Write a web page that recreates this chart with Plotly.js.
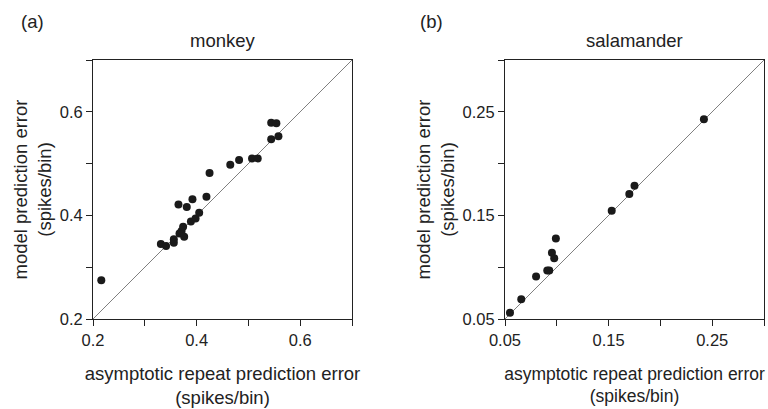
<!DOCTYPE html>
<html><head><meta charset="utf-8">
<script src="https://cdn.plot.ly/plotly-3.0.1.min.js"></script>
<style>html,body{margin:0;padding:0;background:#fff}</style>
</head><body><div id="chart" style="width:768px;height:409px"></div>
<script>
// monkey panel (a)
const monkeyRepeatErr = [0.216,0.331,0.341,0.356,0.356,0.365,0.367,0.371,0.374,0.376,0.381,0.389,0.392,0.398,0.405,0.419,0.425,0.465,0.482,0.507,0.518,0.544,0.558,0.544,0.554];
const monkeyModelErr  = [0.275,0.345,0.341,0.354,0.347,0.421,0.365,0.370,0.378,0.359,0.416,0.388,0.431,0.394,0.405,0.436,0.482,0.498,0.507,0.510,0.510,0.547,0.553,0.579,0.578];
// salamander panel (b)
const salRepeatErr = [0.0548,0.0657,0.080,0.0908,0.0927,0.0953,0.0975,0.0991,0.153,0.170,0.175,0.242];
const salModelErr  = [0.0561,0.069,0.091,0.0968,0.0968,0.1139,0.1087,0.1277,0.1545,0.1706,0.1787,0.2429];
// axes
const monkeyRange = [0.2, 0.7];
const salRange = [0.05, 0.3];
const monkeyTickVals = [0.2,0.3,0.4,0.5,0.6,0.7];
const monkeyTickText = ["0.2","","0.4","","0.6",""];
const salTickVals = [0.05,0.1,0.15,0.2,0.25,0.3];
const salTickText = ["0.05","","0.15","","0.25",""];
const panelTitles = ["monkey","salamander"];
const panelLetters = ["(a)","(b)"];
const xTitle = "asymptotic repeat prediction error<br>(spikes/bin)";
const yTitle = "model prediction error<br>(spikes/bin)";

const FONT = "Liberation Sans, Arial, Helvetica, sans-serif";
const TXT = "#222";
const dot = {size: 8, color: "#1a1a1a"};
const diag = {color: "#808080", width: 1};

const traces = [
  {x: monkeyRange, y: monkeyRange, mode: "lines", line: diag, xaxis: "x", yaxis: "y", hoverinfo: "skip"},
  {x: monkeyRepeatErr, y: monkeyModelErr, mode: "markers", marker: dot, xaxis: "x", yaxis: "y"},
  {x: salRange, y: salRange, mode: "lines", line: diag, xaxis: "x2", yaxis: "y2", hoverinfo: "skip"},
  {x: salRepeatErr, y: salModelErr, mode: "markers", marker: dot, xaxis: "x2", yaxis: "y2"}
];

function ax(range, vals, text, domain, anchor, title, standoff, tsize) {
  return {
    range: range, domain: domain, anchor: anchor,
    tickmode: "array", tickvals: vals, ticktext: text,
    ticks: "outside", ticklen: 6, tickwidth: 1, tickcolor: "#222",
    showline: true, linecolor: "#222", linewidth: 1, mirror: true,
    showgrid: false, zeroline: false,
    tickfont: {family: FONT, size: 16.5, color: TXT},
    title: {text: title, font: {family: FONT, size: tsize, color: TXT}, standoff: standoff},
    automargin: false
  };
}

const W = 671, L = 93, B = 319, H = 259;
function px(xp){ return (xp - L) / W; }
function py(yp){ return (B - yp) / H; }
function note(text, xp, yp){
  return {text: text, x: px(xp), y: py(yp), xref: "paper", yref: "paper",
    xanchor: "center", yanchor: "middle", showarrow: false,
    font: {family: FONT, size: 18.5, color: TXT}};
}

const layout = {
  width: 768, height: 409,
  margin: {l: 93, r: 4, t: 60, b: 90},
  paper_bgcolor: "#fff", plot_bgcolor: "#fff",
  showlegend: false,
  font: {family: FONT, color: TXT},
  xaxis: ax(monkeyRange, monkeyTickVals, monkeyTickText, [0, 259/671], "y", xTitle, 19, 18.5),
  yaxis: ax(monkeyRange, monkeyTickVals, monkeyTickText, [0, 1], "x", yTitle, 3, 18.5),
  xaxis2: ax(salRange, salTickVals, salTickText, [412/671, 1], "y2", xTitle, 19, 17.5),
  yaxis2: ax(salRange, salTickVals, salTickText, [0, 1], "x2", yTitle, 3, 18.5),
  annotations: [
    note(panelLetters[0], 32, 21),
    note(panelTitles[0], 222.5, 41),
    note(panelLetters[1], 432, 21),
    note(panelTitles[1], 634.5, 41)
  ]
};

Plotly.newPlot("chart", traces, layout, {displayModeBar: false, staticPlot: true});
</script>
</body></html>
